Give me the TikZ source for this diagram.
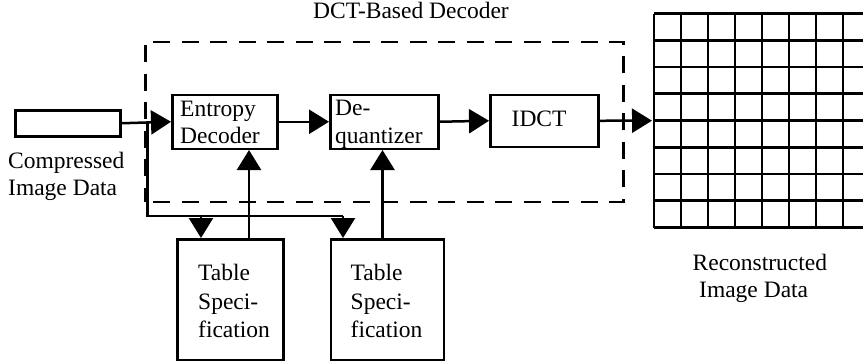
\documentclass[tikz,border=0pt]{standalone}
\usepackage{fontspec}
\setmainfont{Liberation Serif}
\usetikzlibrary{arrows.meta}
\begin{document}
\begin{tikzpicture}[x=1pt,y=-1pt,
  box/.style={draw,line width=2.5pt,anchor=north west,inner sep=0pt},
  lbl/.style={anchor=base west,inner sep=0pt,font=\fontsize{23.5pt}{28pt}\selectfont},
  arr/.style={line width=2.5pt,-{Triangle[length=20pt,width=24pt]}},
  ln/.style={line width=2.5pt},
  dbox/.style={line width=2.6pt,dash pattern=on 17pt off 11.5pt,dash phase=-8pt}]
\useasboundingbox (0,0) rectangle (863,360);
% dashed decoder region
\node[dbox,draw,anchor=north west,minimum width=478pt,minimum height=160pt,inner sep=0pt] (dec) at (144,40.5) {};
\node[lbl] (title) at (313,18.5) {DCT-Based Decoder};
% input block
\node[box,minimum width=105pt,minimum height=26pt] (inp) at (14,109) {};
\node[lbl] (cid1) at (8,168) {Compressed};
\node[lbl] (cid2) at (8,195) {Image Data};
% processing blocks
\node[box,minimum width=105pt,minimum height=54pt] (ent) at (171,93.5) {};
\node[lbl] (entt1) at (180,116) {Entropy};
\node[lbl] (entt2) at (180,143) {Decoder};
\node[box,minimum width=108pt,minimum height=54pt] (deq) at (329,93.5) {};
\node[lbl] (deqt1) at (335,115) {De-};
\node[lbl] (deqt2) at (335,143) {quantizer};
\node[box,minimum width=108pt,minimum height=52pt] (idct) at (489,93.5) {};
\node[lbl] (idctt) at (511.5,126.5) {IDCT};
% table specification blocks
\node[box,minimum width=106pt,minimum height=121pt] (t1) at (176,238) {};
\node[lbl] (t1a) at (198,280.5) {Table};
\node[lbl] (t1b) at (198,309) {Speci-};
\node[lbl] (t1c) at (198,337) {fication};
\node[box,minimum width=113pt,minimum height=121pt] (t2) at (329.5,238) {};
\node[lbl] (t2a) at (350.5,280.5) {Table};
\node[lbl] (t2b) at (350.5,309) {Speci-};
\node[lbl] (t2c) at (350.5,337) {fication};
% output grid
\node[anchor=north west,minimum width=216pt,minimum height=214pt,inner sep=0pt] (grid) at (654,13.5) {};
\begin{scope}
\clip (0,0) rectangle (863,360);
\foreach \i in {0,...,8} {
  \draw[line width=2.7pt] (654+27*\i,13.5) -- (654+27*\i,227.5);
  \draw[line width=2.7pt] (654,13.5+26.75*\i) -- (870,13.5+26.75*\i);
}
\end{scope}
\node[lbl] (rid1) at (692.5,270) {Reconstructed};
\node[lbl] (rid2) at (699,297.5) {Image Data};
% connectors
\coordinate (br) at (147.5,0);
\coordinate (bt) at (0,216);
\coordinate (d1) at (201,0);
\coordinate (d2) at (343,0);
\coordinate (u1) at (249,0);
\coordinate (u2) at (382.5,0);
\draw[arr] (inp.east) -- (ent.west);
\draw[ln] (inp.east -| br) -- (br |- bt) -- (d2 |- bt);
\draw[arr] (d1 |- bt) -- (t1.north -| d1);
\draw[arr] (d2 |- bt) -- (t2.north -| d2);
\draw[arr] (ent.east) -- (deq.west);
\draw[arr] (deq.east) -- (idct.west);
\draw[arr] (idct.east) -- ([xshift=-2pt]grid.west);
\draw[arr] (t1.north -| u1) -- (ent.south -| u1);
\draw[arr] (t2.north -| u2) -- (deq.south -| u2);
\end{tikzpicture}
\end{document}
